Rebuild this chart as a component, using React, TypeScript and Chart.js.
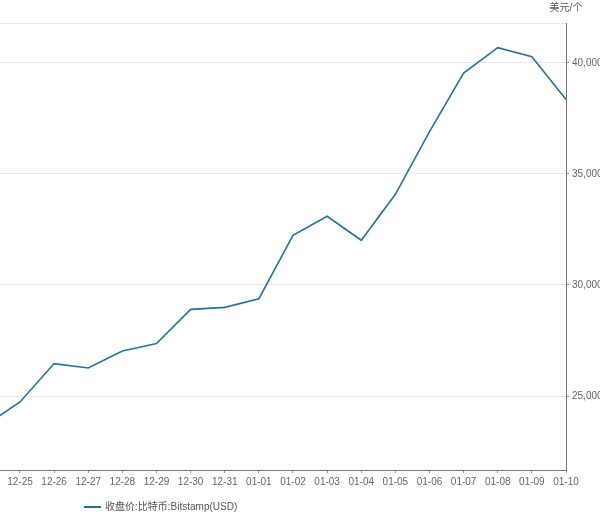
import React, { useEffect, useRef } from "react";
import { Chart, registerables } from "chart.js";

Chart.register(...registerables);

const dates = [
  "12-24", "12-25", "12-26", "12-27", "12-28", "12-29", "12-30", "12-31",
  "01-01", "01-02", "01-03", "01-04", "01-05", "01-06", "01-07", "01-08",
  "01-09", "01-10",
];
const closePrices = [
  23700, 24730, 26460, 26260, 27030, 27360, 28900, 28990, 29380, 32230,
  33090, 32010, 34080, 36900, 39540, 40680, 40270, 38350,
];
const yTickValues = [25000, 30000, 35000, 40000];
const seriesLabel = "收盘价:比特币:Bitstamp(USD)";
const unitLabel = "美元/个";

const LINE_COLOR = "#26729e";
const FONT = "'Liberation Sans', 'Noto Sans CJK SC', sans-serif";
const Y_MIN = 21670;
const Y_MAX = 41790;
const X_MIN = 0.414;

const extrasPlugin = {
  id: "extras",
  afterDraw(chart: any) {
    const { ctx, chartArea } = chart;
    ctx.save();
    ctx.font = `10px ${FONT}`;
    ctx.fillStyle = "#555";
    ctx.textAlign = "center";
    ctx.textBaseline = "middle";
    ctx.fillText(unitLabel, chartArea.right, 8);

    const ds = chart.data.datasets[0];
    const ly = 507;
    ctx.strokeStyle = ds.borderColor;
    ctx.lineWidth = 2;
    ctx.beginPath();
    ctx.moveTo(84, ly);
    ctx.lineTo(101, ly);
    ctx.stroke();
    ctx.textAlign = "left";
    ctx.fillStyle = "#555";
    ctx.fillText(ds.label, 105, ly);
    ctx.restore();
  },
};

export default function App() {
  const ref = useRef<HTMLCanvasElement>(null);

  useEffect(() => {
    document.body.style.margin = "0";
    const canvas = ref.current;
    if (!canvas) return;
    const points = closePrices.map((v, i) => ({ x: i, y: v }));
    const chart = new Chart(canvas, {
      type: "line",
      data: {
        datasets: [
          {
            label: seriesLabel,
            data: points,
            borderColor: LINE_COLOR,
            backgroundColor: LINE_COLOR,
            borderWidth: 1.6,
            pointRadius: 0,
            tension: 0,
            fill: false,
          },
        ],
      },
      options: {
        animation: false,
        responsive: false,
        maintainAspectRatio: false,
        layout: { padding: { top: 23, left: 0, right: 0, bottom: 25 } },
        plugins: {
          legend: { display: false },
          tooltip: { enabled: false },
          title: { display: false },
        },
        scales: {
          x: {
            type: "linear",
            min: X_MIN,
            max: dates.length - 1,
            afterBuildTicks: (scale: any) => {
              scale.ticks = dates
                .map((_, i) => ({ value: i }))
                .filter((t) => t.value >= scale.min);
            },
            afterFit: (scale: any) => {
              scale.height = 20;
            },
            ticks: {
              autoSkip: false,
              maxRotation: 0,
              minRotation: 0,
              padding: 3,
              color: "#666",
              font: { family: FONT, size: 10 },
              callback: (value: any) => dates[Math.round(Number(value))] ?? "",
            },
            grid: {
              drawOnChartArea: false,
              drawTicks: true,
              tickLength: 3,
              tickColor: "#999",
            },
            border: { display: true, color: "#777", width: 1 },
          },
          y: {
            type: "linear",
            position: "right",
            min: Y_MIN,
            max: Y_MAX,
            afterBuildTicks: (scale: any) => {
              scale.ticks = [...yTickValues.map((v) => ({ value: v })), { value: Y_MAX }];
            },
            afterFit: (scale: any) => {
              scale.width = 34;
            },
            ticks: {
              padding: 3,
              color: "#666",
              font: { family: FONT, size: 10 },
              callback: (value: any) =>
                Number(value) === Y_MAX
                  ? ""
                  : Number(value).toLocaleString("en-US", {
                      minimumFractionDigits: 2,
                      maximumFractionDigits: 2,
                    }),
            },
            grid: {
              color: "#e9e9e9",
              lineWidth: 1,
              tickLength: 3,
              tickColor: (ctx: any) =>
                ctx.tick && ctx.tick.value === Y_MAX ? "rgba(0,0,0,0)" : "#999",
            },
            border: { display: true, color: "#777", width: 1 },
          },
        },
      },
      plugins: [extrasPlugin],
    });
    return () => chart.destroy();
  }, []);

  return (
    <div style={{ width: 600, height: 515, position: "relative", background: "#fff" }}>
      <canvas ref={ref} width={600} height={515} style={{ display: "block" }} />
    </div>
  );
}
